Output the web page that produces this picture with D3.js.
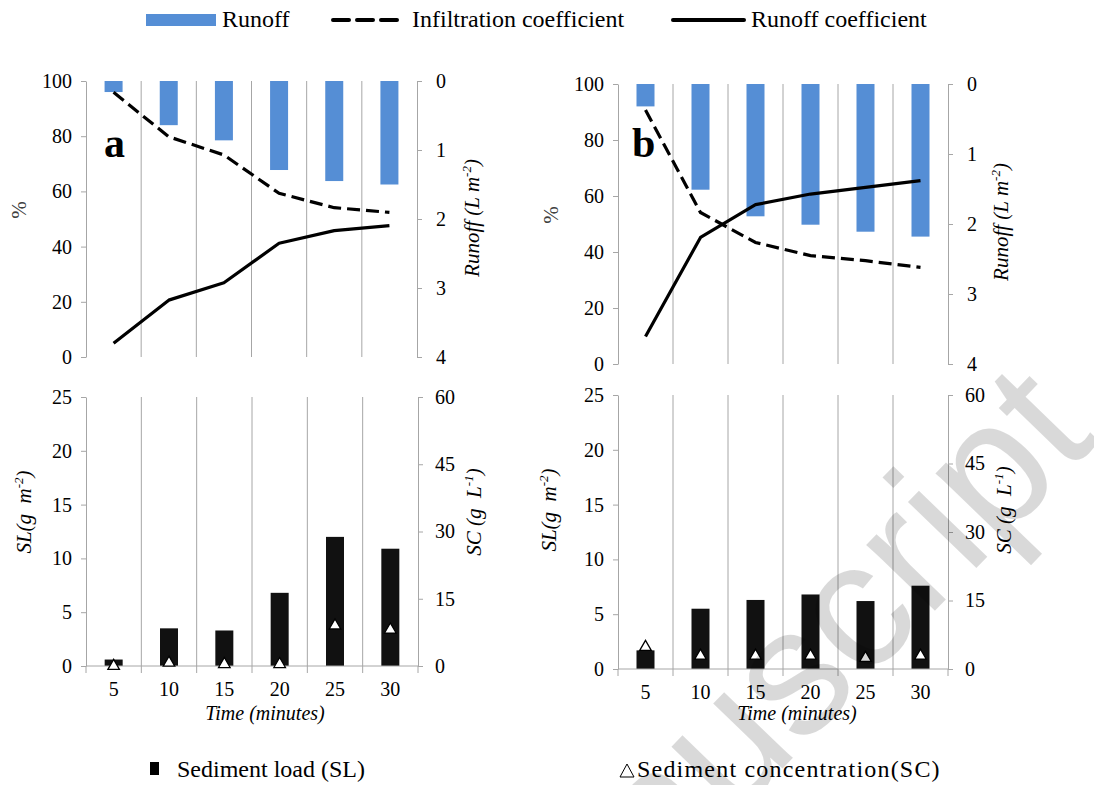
<!DOCTYPE html>
<html>
<head>
<meta charset="utf-8">
<title>Runoff and sediment</title>
<script src="https://cdn.jsdelivr.net/npm/d3@7"></script>
<style>
body { margin:0; background:#fff; }
svg, svg text { font-family: "Liberation Serif", "Times New Roman", serif; }
.axis text { font-size:20px; fill:#000; }
</style>
</head>
<body>
<div id="chart"></div>
<script>

// ---- data ----
var times = [5, 10, 15, 20, 25, 30];

var runoffA = [0.16, 0.64, 0.86, 1.29, 1.45, 1.50];   // L m-2
var infilA  = [95.9, 79.8, 73.2, 59.3, 54.1, 52.4];   // %
var rcoefA  = [5.0, 20.6, 26.9, 41.2, 45.8, 47.6];    // %

var runoffB = [0.32, 1.51, 1.89, 2.01, 2.11, 2.18];
var infilB  = [90.7, 54.1, 43.4, 38.7, 36.9, 34.5];
var rcoefB  = [9.8, 45.2, 56.9, 60.7, 63.1, 65.5];

var slA = [0.6, 3.5, 3.3, 6.8, 12.0, 10.9];   // g m-2
var scA = [0.0, 0.7, 0.4, 0.4, 9.0, 8.1];     // g L-1
var slB = [1.7, 5.5, 6.3, 6.8, 6.2, 7.6];
var scB = [4.8, 2.9, 2.9, 2.9, 2.4, 2.9];

var pctTicks = [0, 20, 40, 60, 80, 100];
var runoffTicks = [0, 1, 2, 3, 4];
var slTicks = [0, 5, 10, 15, 20, 25];
var scTicks = [0, 15, 30, 45, 60];

var blue = "#558ED5";
var grid = "#a6a6a6";
var fmt = d3.format("d");

var svg = d3.select("#chart").append("svg")
  .attr("width", 1094).attr("height", 785);

function styleAxis(g) {
  g.attr("class", "axis").attr("font-family", null);
  g.select(".domain").attr("stroke", grid);
  g.selectAll(".tick line").attr("stroke", grid);
  g.selectAll(".tick text").style("font-size", "20px").attr("fill", "#000");
}

// vertical axis title, rotated, with optional superscript
function vTitle(x, y, parts, italic, color) {
  var t = svg.append("text")
    .attr("transform", "translate(" + x + "," + y + ") rotate(-90)")
    .attr("text-anchor", "middle")
    .style("font-size", "21px")
    .style("font-style", italic ? "italic" : "normal")
    .style("white-space", "pre")
    .attr("fill", color || "#000");
  parts.forEach(function(p) {
    var s = t.append("tspan").text(p.t);
    if (p.sup) s.style("font-size", "13px").attr("dy", -8);
    if (p.after) s.attr("dy", 8);
  });
  return t;
}

function topPanel(box, runoff, infil, rcoef, letter) {
  var x = d3.scaleBand().domain(times).range([box.x0, box.x1]);
  var yL = d3.scaleLinear().domain([0, 100]).range([box.yb, box.yt]);
  var yR = d3.scaleLinear().domain([0, 4]).range([box.yt, box.yb]);
  var cx = function(i) { return x(times[i]) + x.bandwidth() / 2; };
  var g = svg.append("g");

  g.selectAll(".grid").data(times.slice(1)).enter().append("line")
    .attr("x1", function(d) { return x(d); }).attr("x2", function(d) { return x(d); })
    .attr("y1", box.yt).attr("y2", box.yb)
    .attr("stroke", grid).attr("stroke-width", 1);

  var bw = 18;
  g.selectAll(".bar").data(runoff).enter().append("rect")
    .attr("x", function(d, i) { return cx(i) - bw / 2; })
    .attr("y", yR(0))
    .attr("width", bw)
    .attr("height", function(d) { return yR(d) - yR(0); })
    .attr("fill", blue);

  g.append("g").attr("transform", "translate(" + box.x0 + ",0)")
    .call(d3.axisLeft(yL).tickValues(pctTicks).tickFormat(fmt).tickSize(5).tickSizeOuter(0).tickPadding(9))
    .call(styleAxis);
  g.append("g").attr("transform", "translate(" + box.x1 + ",0)")
    .call(d3.axisRight(yR).tickValues(runoffTicks).tickFormat(fmt).tickSize(5).tickSizeOuter(0).tickPadding(14))
    .call(styleAxis);

  var line = d3.line().x(function(d, i) { return cx(i); }).y(function(d) { return yL(d); });
  g.append("path").datum(infil).attr("d", line)
    .attr("fill", "none").attr("stroke", "#000").attr("stroke-width", 3.2)
    .attr("stroke-dasharray", "13,6");
  g.append("path").datum(rcoef).attr("d", line)
    .attr("fill", "none").attr("stroke", "#000").attr("stroke-width", 3.2)
    .attr("stroke-linejoin", "round");

  svg.append("text").attr("x", box.lx).attr("y", 157)
    .style("font-size", "42px").style("font-weight", "bold").text(letter);
}

function bottomPanel(box, sl, sc) {
  var x = d3.scaleBand().domain(times).range([box.x0, box.x1]);
  var yL = d3.scaleLinear().domain([0, 25]).range([box.yb, box.yt]);
  var yR = d3.scaleLinear().domain([0, 60]).range([box.yb, box.yt]);
  var cx = function(i) { return x(times[i]) + x.bandwidth() / 2; };
  var g = svg.append("g");

  g.selectAll(".grid").data(times.slice(1)).enter().append("line")
    .attr("x1", function(d) { return x(d); }).attr("x2", function(d) { return x(d); })
    .attr("y1", box.yt).attr("y2", box.yb)
    .attr("stroke", grid);

  var bw = 18;
  g.selectAll(".bar").data(sl).enter().append("rect")
    .attr("x", function(d, i) { return cx(i) - bw / 2; })
    .attr("y", function(d) { return yL(d); })
    .attr("width", bw)
    .attr("height", function(d) { return yL(0) - yL(d); })
    .attr("fill", "#111");

  // x axis with ticks at the category boundaries
  var bx = times.map(function(d) { return x(d); }).concat([box.x1]);
  g.append("line").attr("x1", box.x0).attr("x2", box.x1)
    .attr("y1", box.yb).attr("y2", box.yb).attr("stroke", grid);
  g.selectAll(".bt").data(bx).enter().append("line")
    .attr("x1", function(d) { return d; }).attr("x2", function(d) { return d; })
    .attr("y1", box.yb).attr("y2", box.yb + 7).attr("stroke", grid);
  var ax = g.append("g").attr("transform", "translate(0," + box.yb + ")")
    .call(d3.axisBottom(x).tickSize(0).tickPadding(16))
    .call(styleAxis);
  ax.select(".domain").remove();

  g.append("g").attr("transform", "translate(" + box.x0 + ",0)")
    .call(d3.axisLeft(yL).tickValues(slTicks).tickFormat(fmt).tickSize(5).tickSizeOuter(0).tickPadding(9))
    .call(styleAxis);
  g.append("g").attr("transform", "translate(" + box.x1 + ",0)")
    .call(d3.axisRight(yR).tickValues(scTicks).tickFormat(fmt).tickSize(5).tickSizeOuter(0).tickPadding(12))
    .call(styleAxis);

  g.selectAll(".tri").data(sc).enter().append("path")
    .attr("d", d3.symbol(d3.symbolTriangle).size(58))
    .attr("transform", function(d, i) { return "translate(" + cx(i) + "," + yR(d) + ")"; })
    .attr("fill", "#fff").attr("stroke", "#000").attr("stroke-width", 1.3);

  svg.append("text").attr("x", box.tx).attr("y", 720)
    .attr("text-anchor", "middle").style("font-size", "20px").style("font-style", "italic")
    .text("Time (minutes)");
}

topPanel({x0: 86, x1: 417, yt: 81, yb: 357, lx: 104}, runoffA, infilA, rcoefA, "a");
topPanel({x0: 618, x1: 948, yt: 84, yb: 364, lx: 632}, runoffB, infilB, rcoefB, "b");
bottomPanel({x0: 86, x1: 418, yt: 397, yb: 666, tx: 265}, slA, scA);
bottomPanel({x0: 618, x1: 948, yt: 395, yb: 669, tx: 797}, slB, scB);

// axis titles
vTitle(26, 210, [{t: "%"}], false, "#404040");
vTitle(558, 215, [{t: "%"}], false, "#404040");
vTitle(479, 218, [{t: "Runoff (L m"}, {t: "-2", sup: true}, {t: ")", after: true}], true);
vTitle(1008, 222, [{t: "Runoff (L m"}, {t: "-2", sup: true}, {t: ")", after: true}], true);
vTitle(31, 512, [{t: "SL(g  m"}, {t: "-2", sup: true}, {t: ")", after: true}], true);
vTitle(556, 510, [{t: "SL(g  m"}, {t: "-2", sup: true}, {t: ")", after: true}], true);
vTitle(481, 512, [{t: "SC (g  L"}, {t: "-1", sup: true}, {t: ")", after: true}], true);
vTitle(1011, 510, [{t: "SC (g  L"}, {t: "-1", sup: true}, {t: ")", after: true}], true);

// top legend
var leg = svg.append("g");
leg.append("rect").attr("x", 146).attr("y", 14).attr("width", 70).attr("height", 12).attr("fill", blue);
leg.append("text").attr("x", 222).attr("y", 27).style("font-size", "24px").text("Runoff");
leg.append("line").attr("x1", 333).attr("x2", 400).attr("y1", 20).attr("y2", 20)
  .attr("stroke", "#000").attr("stroke-width", 4).attr("stroke-dasharray", "16,8")
  .attr("stroke-linecap", "round");
leg.append("text").attr("x", 412).attr("y", 27).style("font-size", "24px").text("Infiltration coefficient");
leg.append("line").attr("x1", 673).attr("x2", 744).attr("y1", 20).attr("y2", 20)
  .attr("stroke", "#000").attr("stroke-width", 4).attr("stroke-linecap", "round");
leg.append("text").attr("x", 751).attr("y", 27).style("font-size", "24px").text("Runoff coefficient");

// bottom legend
svg.append("rect").attr("x", 150).attr("y", 762).attr("width", 9).attr("height", 13).attr("fill", "#000");
svg.append("text").attr("x", 177).attr("y", 777).style("font-size", "24px").text("Sediment load (SL)");
svg.append("path").attr("d", "M620,777 L627,764 L634,777 Z")
  .attr("fill", "none").attr("stroke", "#000").attr("stroke-width", 1);
svg.append("text").attr("x", 637).attr("y", 777).style("font-size", "24px")
  .style("letter-spacing", "1.2px").text("Sediment concentration(SC)");

// watermark
svg.append("text")
  .attr("transform", "translate(1100,440) rotate(-46)")
  .attr("text-anchor", "end")
  .style("font-family", "Liberation Sans, Arial, sans-serif")
  .style("font-size", "180px")
  .attr("fill", "#000").attr("fill-opacity", 0.15)
  .text("Manuscript");

</script>
</body>
</html>
